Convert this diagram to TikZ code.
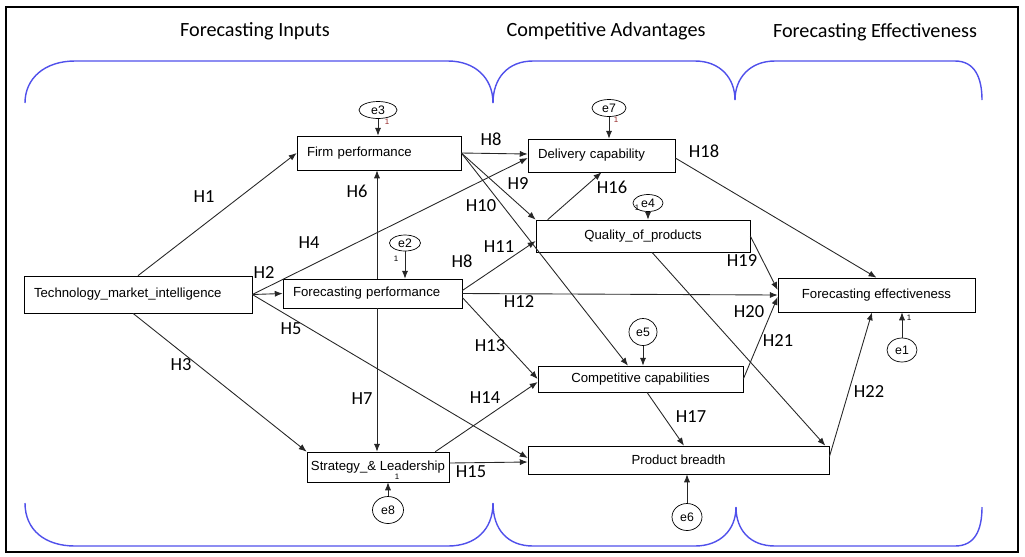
\documentclass[tikz,border=0pt]{standalone}
\usepackage{fontspec}
\setmainfont{Carlito}
\newfontfamily\arialfont{Liberation Sans}
\usetikzlibrary{shapes.geometric,arrows.meta}
\definecolor{braceblue}{RGB}{80,80,235}
\definecolor{onered}{RGB}{150,40,40}

\begin{document}
\begin{tikzpicture}[x=0.02cm, y=-0.02cm,
    block/.style={draw, rectangle, inner xsep=0.2cm, inner ysep=0pt, font=\arialfont\fontsize{7.5}{9}\selectfont},
    err/.style={draw, ellipse, inner sep=0pt, font=\arialfont\fontsize{7}{8}\selectfont},
    hyp/.style={font=\fontsize{10.5}{12}\selectfont, inner sep=0pt},
    one/.style={font=\arialfont\fontsize{4.5}{5}\selectfont, inner sep=0pt},
    title/.style={font=\fontsize{11.5}{13}\selectfont, inner sep=0pt},
    arrow/.style={-{Latex[length=4.5pt,width=3.5pt]}, line width=0.5pt, black!85},
    brace/.style={braceblue, line width=0.8pt}
]
\useasboundingbox (0,0) rectangle (1025,556);
\draw[line width=1.6pt] (6,7) rectangle (1018,552);

% section headings and braces
\node[title] (tin) at (255,31) {Forecasting Inputs};
\node[title] (tca) at (606,31) {Competitive Advantages};
\node[title] (tfe) at (875,32) {Forecasting Effectiveness};
\draw[brace] (25,103) .. controls (25,78) and (45,61) .. (75,61) -- (448,61) .. controls (475,61) and (493,78) .. (493,103);
\draw[brace] (493,103) .. controls (493,78) and (508,61) .. (533,61) -- (695,61) .. controls (720,61) and (735,78) .. (735,100);
\draw[brace] (735,100) .. controls (735,78) and (750,61) .. (775,61) -- (955,61) .. controls (975,61) and (982,78) .. (982,100);
\draw[brace] (25,503) .. controls (25,530) and (45,546) .. (75,546) -- (448,546) .. controls (475,546) and (493,530) .. (493,503);
\draw[brace] (493,503) .. controls (493,530) and (508,546) .. (533,546) -- (695,546) .. controls (720,546) and (736,530) .. (736,507);
\draw[brace] (736,507) .. controls (736,530) and (750,546) .. (775,546) -- (955,546) .. controls (975,546) and (982,530) .. (982,507);

% constructs
\node[block, text width=4.16cm, minimum height=0.74cm] (tmi) at (138,294.5) {Technology\_market\_intelligence};
\node[block, text width=2.88cm, minimum height=0.68cm] (firm) at (379,153) {Firm performance};
\node[block, text width=3.18cm, minimum height=0.58cm] (fcp) at (372.5,293.5) {Forecasting performance};
\node[block, inner xsep=2pt, minimum width=2.84cm, minimum height=0.60cm] (strat) at (378,467) {Strategy\_\&~Leadership};
\node[block, text width=2.54cm, minimum height=0.66cm] (deliv) at (601.5,155.5) {Delivery capability};
\node[block, minimum width=4.28cm, minimum height=0.64cm] (qual) at (643,236) {Quality\_of\_products};
\node[block, minimum width=4.10cm, minimum height=0.52cm] (comp) at (640.5,379) {Competitive capabilities};
\node[block, minimum width=6.02cm, minimum height=0.56cm] (pbr) at (678.5,460) {Product breadth};
\node[block, minimum width=3.94cm, minimum height=0.68cm] (feff) at (876.5,295) {Forecasting effectiveness};

% error terms
\node[err, minimum width=0.76cm, minimum height=0.34cm] (e3) at (378,110) {e3};
\node[err, minimum width=0.68cm, minimum height=0.34cm] (e7) at (609,108) {e7};
\node[err, minimum width=0.62cm, minimum height=0.32cm] (e2) at (405,243) {e2};
\node[err, minimum width=0.60cm, minimum height=0.34cm] (e4) at (648,203) {e4};
\node[err, minimum width=0.56cm, minimum height=0.54cm] (e5) at (643,332) {e5};
\node[err, minimum width=0.60cm, minimum height=0.48cm] (e1) at (902,350) {e1};
\node[err, minimum width=0.60cm, minimum height=0.54cm] (e6) at (687,517) {e6};
\node[err, minimum width=0.62cm, minimum height=0.54cm] (e8) at (388,510) {e8};
\draw[arrow] (e3) -- (e3 |- firm.north);
\draw[arrow] (e7) -- (e7 |- deliv.north);
\draw[arrow] (e2) -- (e2 |- fcp.north);
\draw[arrow] (e4) -- (e4 |- qual.north);
\draw[arrow] (e5) -- (e5 |- comp.north);
\draw[arrow] (e1) -- (e1 |- feff.south);
\draw[arrow] (e6) -- (e6 |- pbr.south);
\draw[arrow] (e8) -- (e8 |- strat.south);
\node[one, text=onered] (o3) at (387,122) {1};
\node[one, text=onered] (o7) at (616,120) {1};
\node[one] (o2) at (396,259) {1};
\node[one] (o4) at (637,208) {1};
\node[one] (o1) at (909,318) {1};
\node[one] (o8) at (397,477) {1};

% paths
\coordinate (vx) at (377,0);
\draw[arrow] (tmi.north) -- (firm.west);
\draw[arrow] (tmi.east) -- (fcp.west);
\draw[arrow] (tmi.east) -- ([yshift=-0.05cm]deliv.west);
\draw[arrow] (tmi.east) -- ([yshift=0.04cm]pbr.west);
\draw[arrow] ([xshift=-0.1cm]tmi.south) -- (strat.north west);
\draw[arrow] (vx |- fcp.north) -- (vx |- firm.south);
\draw[arrow] (vx |- fcp.south) -- (vx |- strat.north);
\draw[arrow] (firm.east) -- ([yshift=0.03cm]deliv.west);
\draw[arrow] (firm.east) -- (qual.north west);
\draw[arrow] (firm.east) -- ([xshift=-0.25cm]comp.north);
\draw[arrow] ([yshift=0.06cm]fcp.east) -- ([yshift=-0.1cm]qual.west);
\draw[arrow] (fcp.east) -- (feff.west);
\draw[arrow] ([yshift=-0.08cm]fcp.east) -- (comp.west);
\draw[arrow] ([xshift=-0.28cm]strat.north east) -- ([yshift=-0.06cm]comp.west);
\draw[arrow] ([yshift=0.08cm]strat.east) -- ([yshift=-0.04cm]pbr.west);
\draw[arrow] ([xshift=0.24cm]qual.north west) -- (deliv.south);
\draw[arrow] ([xshift=0.13cm]comp.south) -- ([xshift=0.11cm]pbr.north);
\draw[arrow] ([yshift=-0.05cm]deliv.east) -- (feff.north);
\draw[arrow] (qual.east) -- ([yshift=0.1cm]feff.west);
\draw[arrow] (comp.east) -- ([yshift=-0.04cm]feff.west);
\draw[arrow] ([xshift=0.18cm]qual.south) -- ([xshift=-0.08cm]pbr.north east);
\draw[arrow] ([yshift=0.06cm]pbr.east) -- ([xshift=-0.09cm]feff.south);

% hypothesis labels
\node[hyp] (h1) at (204,197) {H1};
\node[hyp] (h2) at (264,273) {H2};
\node[hyp] (h3) at (181,365) {H3};
\node[hyp] (h4) at (309,243) {H4};
\node[hyp] (h5) at (291,329) {H5};
\node[hyp] (h6) at (357,191) {H6};
\node[hyp] (h7) at (362,399) {H7};
\node[hyp] (h8a) at (491,139) {H8};
\node[hyp] (h8b) at (462,261) {H8};
\node[hyp] (h9) at (518,184) {H9};
\node[hyp] (h10) at (481,206) {H10};
\node[hyp] (h11) at (499,247) {H11};
\node[hyp] (h12) at (519,302) {H12};
\node[hyp] (h13) at (490,346) {H13};
\node[hyp] (h14) at (485,398) {H14};
\node[hyp] (h15) at (471,472) {H15};
\node[hyp] (h16) at (612,187) {H16};
\node[hyp] (h17) at (691,417) {H17};
\node[hyp] (h18) at (704,151) {H18};
\node[hyp] (h19) at (742,261) {H19};
\node[hyp] (h20) at (749,312) {H20};
\node[hyp] (h21) at (778,341) {H21};
\node[hyp] (h22) at (869,392) {H22};
\end{tikzpicture}
\end{document}
